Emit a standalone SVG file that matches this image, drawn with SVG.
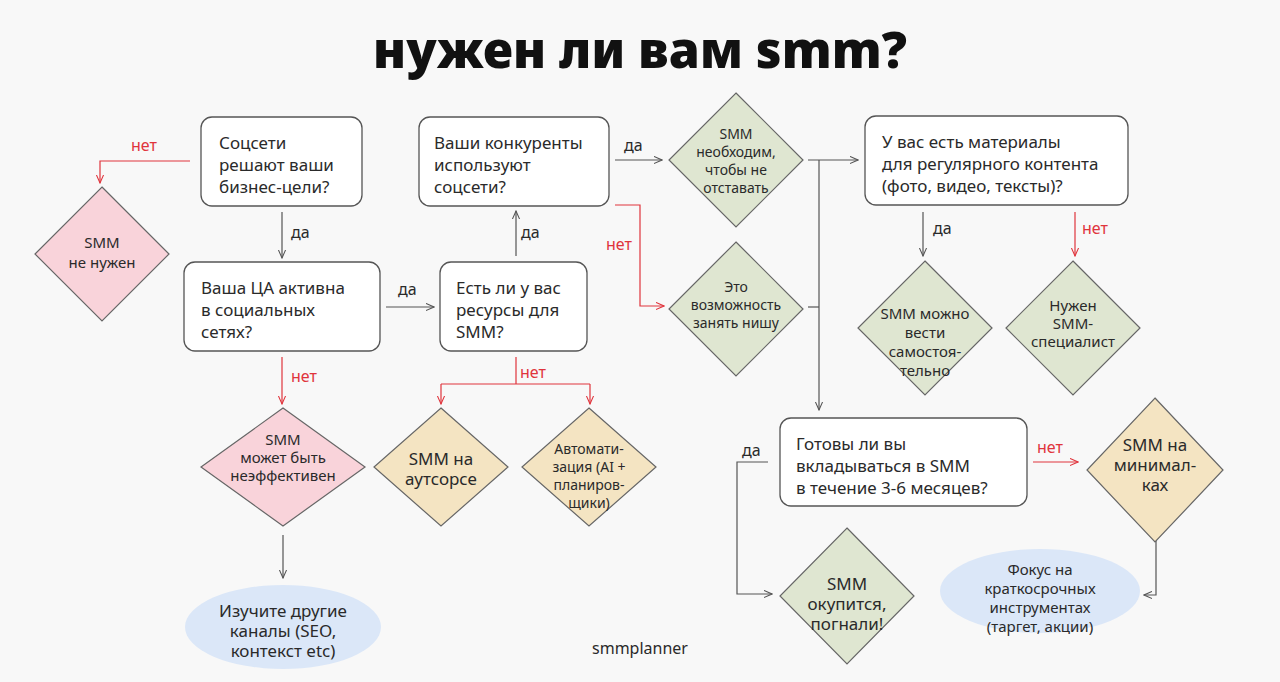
<svg xmlns="http://www.w3.org/2000/svg" width="1280" height="682" viewBox="0 0 1280 682">
<defs>
<marker id="a" viewBox="0 0 10 10" refX="9" refY="5" markerWidth="9" markerHeight="9" orient="auto" markerUnits="userSpaceOnUse"><path d="M0,1 L9,5 L0,9" fill="none" stroke="#555" stroke-width="1.2"/></marker>
<marker id="r" viewBox="0 0 10 10" refX="9" refY="5" markerWidth="9" markerHeight="9" orient="auto" markerUnits="userSpaceOnUse"><path d="M0,1 L9,5 L0,9" fill="none" stroke="#e0343c" stroke-width="1.2"/></marker>
<style>
text{font-family:"Noto Sans","Liberation Sans",sans-serif;fill:#2a2a2a}
.b{fill:#fff;stroke:#555;stroke-width:1.3}
.bt{font-size:17px}
.dt{font-size:15px;text-anchor:middle}
.g{fill:#dfe6d1;stroke:#666;stroke-width:1.2}
.p{fill:#f9d3da;stroke:#666;stroke-width:1.2}
.t{fill:#f4e4c2;stroke:#666;stroke-width:1.2}
.e{fill:#dbe7f8}
.l{fill:none;stroke:#555;stroke-width:1.2}
.lr{fill:none;stroke:#e0343c;stroke-width:1.2}
.lb{font-size:16px}
.lbr{font-size:16px;fill:#e0343c}
</style>
</defs>
<rect width="1280" height="682" fill="#f8f8f8"/>
<text x="640" y="68" text-anchor="middle" style="font-size:50px;font-weight:900;fill:#111;font-family:'Noto Sans','Liberation Sans',sans-serif">нужен ли вам smm?</text>

<g id="connectors">
<path class="lr" d="M190,161 H100 V183" marker-end="url(#r)"/>
<text class="lbr" x="131" y="151">нет</text>
<path class="l" d="M282,212 V258" marker-end="url(#a)"/>
<text class="lb" x="291" y="238">да</text>
<path class="lr" d="M282,357 V404" marker-end="url(#r)"/>
<text class="lbr" x="291" y="382">нет</text>
<path class="l" d="M386,307 H434" marker-end="url(#a)"/>
<text class="lb" x="398" y="295">да</text>
<path class="l" d="M516,256 V211" marker-end="url(#a)"/>
<text class="lb" x="521" y="238">да</text>
<path class="lr" d="M516,357 V384 M441,384 H590" />
<path class="lr" d="M441,384 V404" marker-end="url(#r)"/>
<path class="lr" d="M590,384 V404" marker-end="url(#r)"/>
<text class="lbr" x="520" y="378">нет</text>
<path class="l" d="M615,160 H662" marker-end="url(#a)"/>
<text class="lb" x="624" y="151">да</text>
<path class="lr" d="M615,205 H640 V306 H664" marker-end="url(#r)"/>
<text class="lbr" x="606" y="250">нет</text>
<path class="l" d="M808,160 H858" marker-end="url(#a)"/>
<path class="l" d="M819,160 V410" marker-end="url(#a)"/>
<path class="l" d="M808,307 H819"/>
<path class="l" d="M923,212 V256" marker-end="url(#a)"/>
<text class="lb" x="933" y="234">да</text>
<path class="lr" d="M1075,212 V256" marker-end="url(#r)"/>
<text class="lbr" x="1082" y="234">нет</text>
<path class="l" d="M768,462 H737 V594 H772" marker-end="url(#a)"/>
<text class="lb" x="742" y="456">да</text>
<path class="lr" d="M1033,462 H1078" marker-end="url(#r)"/>
<text class="lbr" x="1037" y="453">нет</text>
<path class="l" d="M1156,537 V595 H1144" marker-end="url(#a)"/>
<path class="l" d="M283,535 V578" marker-end="url(#a)"/>
</g>

<g id="q1"><rect class="b" x="201" y="117" width="161" height="89" rx="11"/>
<text class="bt" x="219" y="149">Соцсети</text><text class="bt" x="219" y="171">решают ваши</text><text class="bt" x="219" y="193">бизнес-цели?</text></g>
<g id="q2"><rect class="b" x="184" y="262" width="196" height="89" rx="11"/>
<text class="bt" x="201" y="294">Ваша ЦА активна</text><text class="bt" x="201" y="316">в социальных</text><text class="bt" x="201" y="338">сетях?</text></g>
<g id="q3"><rect class="b" x="440" y="262" width="147" height="89" rx="11"/>
<text class="bt" x="456" y="294">Есть ли у вас</text><text class="bt" x="456" y="316">ресурсы для</text><text class="bt" x="456" y="338">SMM?</text></g>
<g id="q4"><rect class="b" x="419" y="117" width="190" height="89" rx="11"/>
<text class="bt" x="434" y="149">Ваши конкуренты</text><text class="bt" x="434" y="171">используют</text><text class="bt" x="434" y="193">соцсети?</text></g>
<g id="q5"><rect class="b" x="865" y="116" width="263" height="89" rx="11"/>
<text class="bt" x="882" y="148">У вас есть материалы</text><text class="bt" x="882" y="170">для регулярного контента</text><text class="bt" x="882" y="192">(фото, видео, тексты)?</text></g>
<g id="q6"><rect class="b" x="780" y="418" width="247" height="88" rx="11"/>
<text class="bt" x="796" y="450">Готовы ли вы</text><text class="bt" x="796" y="472">вкладываться в SMM</text><text class="bt" x="796" y="494">в течение 3-6 месяцев?</text></g>

<g id="d1"><path class="p" d="M102,187 L169,254 L102,321 L35,254 Z"/>
<text class="dt" x="102" y="248">SMM</text><text class="dt" x="102" y="268">не нужен</text></g>
<g id="d2"><path class="g" d="M736,93 L803,160 L736,227 L669,160 Z"/>
<text class="dt" x="736" y="139" style="font-size:14px">SMM</text><text class="dt" x="736" y="157" style="font-size:14px">необходим,</text><text class="dt" x="736" y="175" style="font-size:14px">чтобы не</text><text class="dt" x="736" y="193" style="font-size:14px">отставать</text></g>
<g id="d3"><path class="g" d="M736,242 L803,309 L736,376 L669,309 Z"/>
<text class="dt" x="736" y="292" style="font-size:14px">Это</text><text class="dt" x="736" y="310" style="font-size:14px">возможность</text><text class="dt" x="736" y="328" style="font-size:14px">занять нишу</text></g>
<g id="d4"><path class="g" d="M925,261 L992,328 L925,395 L858,328 Z"/>
<text class="dt" x="925" y="319">SMM можно</text><text class="dt" x="925" y="338">вести</text><text class="dt" x="925" y="357">самостоя-</text><text class="dt" x="925" y="376">тельно</text></g>
<g id="d5"><path class="g" d="M1073,261 L1140,328 L1073,395 L1006,328 Z"/>
<text class="dt" x="1073" y="311">Нужен</text><text class="dt" x="1073" y="329">SMM-</text><text class="dt" x="1073" y="347">специалист</text></g>
<g id="d6"><path class="p" d="M283,408 L365,467 L283,526 L201,467 Z"/>
<text class="dt" x="283" y="445">SMM</text><text class="dt" x="283" y="463">может быть</text><text class="dt" x="283" y="481">неэффективен</text></g>
<g id="d7"><path class="t" d="M441,408 L508,467 L441,526 L374,467 Z"/>
<text class="dt" x="441" y="465" style="font-size:17px">SMM на</text><text class="dt" x="441" y="485" style="font-size:17px">аутсорсе</text></g>
<g id="d8"><path class="t" d="M589,408 L656,467 L589,526 L522,467 Z"/>
<text class="dt" x="589" y="454" style="font-size:14px">Автомати-</text><text class="dt" x="589" y="472" style="font-size:14px">зация (AI +</text><text class="dt" x="589" y="490" style="font-size:14px">планиров-</text><text class="dt" x="589" y="508" style="font-size:14px">щики)</text></g>
<g id="d9"><path class="t" d="M1155,398 L1223,470 L1155,542 L1087,470 Z"/>
<text class="dt" x="1155" y="451" style="font-size:17px">SMM на</text><text class="dt" x="1155" y="471" style="font-size:17px">минимал-</text><text class="dt" x="1155" y="491" style="font-size:17px">ках</text></g>
<g id="d10"><path class="g" d="M847,528 L914,596 L847,664 L780,596 Z"/>
<text class="dt" x="847" y="590" style="font-size:17px">SMM</text><text class="dt" x="847" y="610" style="font-size:17px">окупится,</text><text class="dt" x="847" y="630" style="font-size:17px">погнали!</text></g>

<g id="e1"><ellipse class="e" cx="283" cy="627" rx="98" ry="42"/>
<text class="dt" x="283" y="617" style="font-size:17px">Изучите другие</text><text class="dt" x="283" y="637" style="font-size:17px">каналы (SEO,</text><text class="dt" x="283" y="657" style="font-size:17px">контекст etc)</text></g>
<g id="e2"><ellipse class="e" cx="1040" cy="591" rx="100" ry="42"/>
<text class="dt" x="1040" y="575">Фокус на</text><text class="dt" x="1040" y="594">краткосрочных</text><text class="dt" x="1040" y="613">инструментах</text><text class="dt" x="1040" y="632">(таргет, акции)</text></g>

<text x="640" y="654" text-anchor="middle" style="font-size:16px">smmplanner</text>
</svg>
